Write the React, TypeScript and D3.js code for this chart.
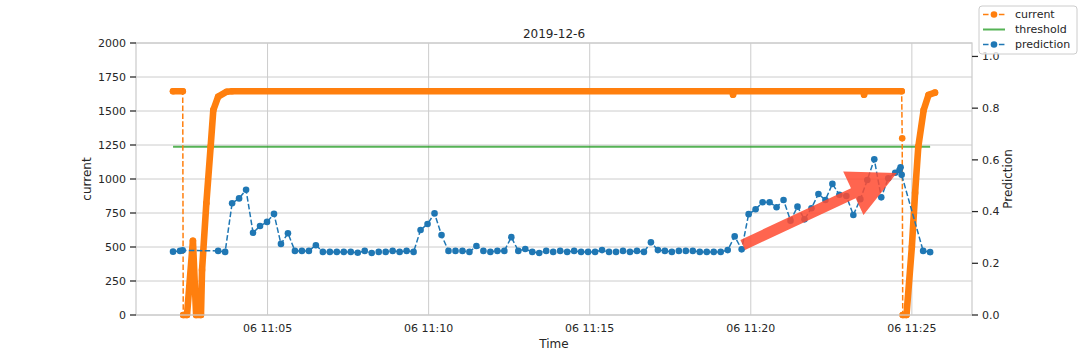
import * as d3 from "d3";

// ---- data ----
const DAY = "2019-12-06";

const currentTimes = [
  "11:02:04", "11:02:22", "11:02:23", "11:02:30", "11:02:41", "11:02:47",
  "11:02:56", "11:02:58", "11:03:06", "11:03:14", "11:03:19", "11:03:28",
  "11:03:44", "11:03:54", "11:19:26", "11:19:27", "11:19:28", "11:23:30",
  "11:23:31", "11:23:32", "11:24:41", "11:24:42", "11:24:43", "11:24:50",
  "11:25:00", "11:25:06", "11:25:12", "11:25:22", "11:25:31", "11:25:43",
];
const currentValues = [
  1645, 1645, 0, 0, 546, 0,
  0, 331, 821, 1238, 1507, 1605,
  1642, 1645, 1645, 1620, 1645, 1645,
  1620, 1645, 1645, 1300, 0, 0,
  502, 897, 1238, 1507, 1618, 1635,
];

const predTimes = [
  "11:02:04", "11:02:17", "11:02:22",
  "11:03:28", "11:03:41", "11:03:54", "11:04:07", "11:04:20", "11:04:33",
  "11:04:46", "11:04:59", "11:05:12", "11:05:25", "11:05:38", "11:05:51",
  "11:06:04", "11:06:17", "11:06:30", "11:06:43", "11:06:56", "11:07:09",
  "11:07:22", "11:07:35", "11:07:48", "11:08:01", "11:08:14", "11:08:27",
  "11:08:40", "11:08:53", "11:09:06", "11:09:19", "11:09:32", "11:09:45",
  "11:09:58", "11:10:11", "11:10:24", "11:10:37", "11:10:50", "11:11:03",
  "11:11:16", "11:11:29", "11:11:42", "11:11:55", "11:12:08", "11:12:21",
  "11:12:34", "11:12:47", "11:13:00", "11:13:13", "11:13:26", "11:13:39",
  "11:13:52", "11:14:05", "11:14:18", "11:14:31", "11:14:44", "11:14:57",
  "11:15:10", "11:15:23", "11:15:36", "11:15:49", "11:16:02", "11:16:15",
  "11:16:28", "11:16:41", "11:16:54", "11:17:07", "11:17:20", "11:17:33",
  "11:17:46", "11:17:59", "11:18:12", "11:18:25", "11:18:38", "11:18:51",
  "11:19:04", "11:19:17", "11:19:30", "11:19:43", "11:19:56", "11:20:09",
  "11:20:22", "11:20:35", "11:20:48", "11:21:01", "11:21:14", "11:21:27",
  "11:21:40", "11:21:53", "11:22:06", "11:22:19", "11:22:32", "11:22:45",
  "11:22:58", "11:23:11", "11:23:24", "11:23:37", "11:23:50", "11:24:03",
  "11:24:16", "11:24:29", "11:24:37", "11:24:39", "11:24:41",
  "11:25:21", "11:25:34",
];
const predValues = [
  0.245, 0.248, 0.25,
  0.248, 0.244, 0.432, 0.451, 0.484, 0.318,
  0.344, 0.36, 0.391, 0.275, 0.316, 0.248,
  0.248, 0.248, 0.27, 0.244, 0.244, 0.244,
  0.244, 0.244, 0.241, 0.248, 0.24, 0.244,
  0.244, 0.248, 0.244, 0.248, 0.244, 0.329,
  0.352, 0.393, 0.309, 0.248, 0.248, 0.248,
  0.244, 0.267, 0.248, 0.244, 0.248, 0.248,
  0.301, 0.248, 0.255, 0.244, 0.24, 0.248,
  0.244, 0.248, 0.244, 0.248, 0.244, 0.244,
  0.244, 0.251, 0.244, 0.244, 0.248, 0.244,
  0.248, 0.244, 0.281, 0.251, 0.248, 0.244,
  0.248, 0.248, 0.248, 0.244, 0.244, 0.244,
  0.244, 0.251, 0.304, 0.254, 0.39, 0.409,
  0.436, 0.436, 0.417, 0.445, 0.365, 0.419,
  0.37, 0.413, 0.468, 0.445, 0.507, 0.465,
  0.46, 0.387, 0.448, 0.522, 0.602, 0.455,
  0.529, 0.55, 0.561, 0.571, 0.542,
  0.248, 0.243,
];

const thresholdValue = 1237.5;
const leftTicks = [0, 250, 500, 750, 1000, 1250, 1500, 1750, 2000];
const rightTicks = [0, 0.2, 0.4, 0.6, 0.8, 1.0];
const xTickTimes = ["11:05:00", "11:10:00", "11:15:00", "11:20:00", "11:25:00"];
const xDomain = ["11:00:55", "11:26:52"];
const arrowFrom: [string, number] = ["11:19:45", 0.271];
const arrowTo: [string, number] = ["11:24:32", 0.549];

// ---- layout ----
const W = 1080;
const H = 360;
const left = 136;
const right = 972;
const top = 43;
const bottom = 315;

const ORANGE = "#ff7f0e";
const BLUE = "#1f77b4";
const GREEN = "#2ca02c";
const GRID = "#cccccc";
const TEXT = "#262626";
const FONT = "DejaVu Sans, sans-serif";

const parse = d3.timeParse("%Y-%m-%d %H:%M:%S");
const toDate = (t: string) => parse(`${DAY} ${t}`) as Date;

export default function App() {
  const x = d3.scaleTime().domain(xDomain.map(toDate)).range([left, right]);
  const yL = d3.scaleLinear().domain([0, 2000]).range([bottom, top]);
  const yR = d3.scaleLinear().domain([0, 1.052]).range([bottom, top]);
  const fmt = d3.timeFormat("%d %H:%M");

  const cur = currentTimes.map((t, i) => ({ t: toDate(t), v: currentValues[i] }));
  const pred = predTimes.map((t, i) => ({ t: toDate(t), v: predValues[i] }));

  // dense runs of samples show as a thick trail of overlapping markers
  const runs: { t: Date; v: number }[][] = [[cur[0]]];
  for (let i = 1; i < cur.length; i++) {
    const dt = (+cur[i].t - +cur[i - 1].t) / 1000;
    const jump = dt <= 1 && Math.abs(cur[i].v - cur[i - 1].v) > 200;
    if (jump) runs.push([cur[i]]);
    else runs[runs.length - 1].push(cur[i]);
  }

  const curLine = d3
    .line<{ t: Date; v: number }>()
    .x((d) => x(d.t))
    .y((d) => yL(d.v));
  const predLine = d3
    .line<{ t: Date; v: number }>()
    .x((d) => x(d.t))
    .y((d) => yR(d.v));

  const predExtent = d3.extent(pred, (d) => d.t) as [Date, Date];

  // arrow annotation
  const ax0 = x(toDate(arrowFrom[0]));
  const ay0 = yR(arrowFrom[1]);
  const ax1 = x(toDate(arrowTo[0]));
  const ay1 = yR(arrowTo[1]);
  const len = Math.hypot(ax1 - ax0, ay1 - ay0);
  const ux = (ax1 - ax0) / len;
  const uy = (ay1 - ay0) / len;
  const px = -uy;
  const py = ux;
  const shaftW = 11;
  const headW = 48;
  const headL = 48;
  const bx = ax1 - ux * headL;
  const by = ay1 - uy * headL;
  const arrowPts = [
    [ax0 + (px * shaftW) / 2, ay0 + (py * shaftW) / 2],
    [bx + (px * shaftW) / 2, by + (py * shaftW) / 2],
    [bx + (px * headW) / 2, by + (py * headW) / 2],
    [ax1, ay1],
    [bx - (px * headW) / 2, by - (py * headW) / 2],
    [bx - (px * shaftW) / 2, by - (py * shaftW) / 2],
    [ax0 - (px * shaftW) / 2, ay0 - (py * shaftW) / 2],
  ];

  const legendItems = [
    { label: "current", color: ORANGE, dashed: true, marker: true },
    { label: "threshold", color: GREEN, dashed: false, marker: false },
    { label: "prediction", color: BLUE, dashed: true, marker: true },
  ];

  return (
    <svg
      width={W}
      height={H}
      style={{ position: "absolute", left: 0, top: 0, background: "#fff" }}
      fontFamily={FONT}
    >
      {/* grid */}
      {leftTicks.map((v) => (
        <line key={"gy" + v} x1={left} x2={right} y1={yL(v)} y2={yL(v)} stroke={GRID} strokeWidth={1} />
      ))}
      {xTickTimes.map((t) => (
        <line key={"gx" + t} x1={x(toDate(t))} x2={x(toDate(t))} y1={top} y2={bottom} stroke={GRID} strokeWidth={1} />
      ))}

      {/* threshold */}
      <line
        x1={x(predExtent[0])}
        x2={x(predExtent[1])}
        y1={yL(thresholdValue)}
        y2={yL(thresholdValue)}
        stroke={GREEN}
        strokeOpacity={0.8}
        strokeWidth={2}
      />

      {/* current */}
      <path d={curLine(cur) ?? ""} fill="none" stroke={ORANGE} strokeWidth={1.5} strokeDasharray="5.55,2.4" />
      {runs
        .filter((r) => r.length > 1)
        .map((r, i) => (
          <path
            key={"run" + i}
            d={curLine(r) ?? ""}
            fill="none"
            stroke={ORANGE}
            strokeWidth={6.6}
            strokeLinejoin="round"
            strokeLinecap="round"
          />
        ))}
      {cur.map((d, i) => (
        <circle key={"c" + i} cx={x(d.t)} cy={yL(d.v)} r={3.3} fill={ORANGE} />
      ))}

      {/* prediction */}
      <path d={predLine(pred) ?? ""} fill="none" stroke={BLUE} strokeWidth={1.5} strokeDasharray="5.55,2.4" />
      {pred.map((d, i) => (
        <circle key={"p" + i} cx={x(d.t)} cy={yR(d.v)} r={3.3} fill={BLUE} />
      ))}

      {/* arrow annotation */}
      <polygon points={arrowPts.map((p) => p.join(",")).join(" ")} fill="#ff4a30" fillOpacity={0.85} />

      {/* spines */}
      <rect x={left} y={top} width={right - left} height={bottom - top} fill="none" stroke={GRID} strokeWidth={1.25} />

      {/* left axis */}
      {leftTicks.map((v) => (
        <g key={"lt" + v}>
          <line x1={left - 6} x2={left} y1={yL(v)} y2={yL(v)} stroke={TEXT} strokeWidth={1.25} />
          <text x={left - 10} y={yL(v)} dy="0.35em" textAnchor="end" fontSize={11} fill={TEXT}>
            {v}
          </text>
        </g>
      ))}
      <text
        transform={`translate(87,${(top + bottom) / 2}) rotate(-90)`}
        textAnchor="middle"
        dy="0.35em"
        fontSize={12}
        fill={TEXT}
      >
        current
      </text>

      {/* right axis */}
      {rightTicks.map((v) => (
        <g key={"rt" + v}>
          <line x1={right} x2={right + 6} y1={yR(v)} y2={yR(v)} stroke={TEXT} strokeWidth={1.25} />
          <text x={right + 10} y={yR(v)} dy="0.35em" textAnchor="start" fontSize={11} fill={TEXT}>
            {v.toFixed(1)}
          </text>
        </g>
      ))}
      <text
        transform={`translate(1008,${(top + bottom) / 2}) rotate(-90)`}
        textAnchor="middle"
        dy="0.35em"
        fontSize={12}
        fill={TEXT}
      >
        Prediction
      </text>

      {/* bottom axis */}
      {xTickTimes.map((t) => (
        <text key={"xt" + t} x={x(toDate(t))} y={332} textAnchor="middle" fontSize={11} fill={TEXT}>
          {fmt(toDate(t))}
        </text>
      ))}
      <text x={(left + right) / 2} y={348} textAnchor="middle" fontSize={12} fill={TEXT}>
        Time
      </text>

      {/* title */}
      <text x={(left + right) / 2} y={37.5} textAnchor="middle" fontSize={12} fill={TEXT}>
        2019-12-6
      </text>

      {/* legend */}
      <rect x={979} y={6} width={98} height={48} rx={3} fill="#fff" fillOpacity={0.8} stroke={GRID} strokeWidth={1} />
      {legendItems.map((it, i) => {
        const ly = 14.5 + i * 15;
        return (
          <g key={it.label}>
            <line
              x1={983}
              x2={1005}
              y1={ly}
              y2={ly}
              stroke={it.color}
              strokeOpacity={it.marker ? 1 : 0.8}
              strokeWidth={it.marker ? 1.5 : 2}
              strokeDasharray={it.dashed ? "5.55,2.4" : undefined}
            />
            {it.marker && <circle cx={994} cy={ly} r={3.3} fill={it.color} />}
            <text x={1015} y={ly} dy="0.35em" fontSize={11} fill={TEXT}>
              {it.label}
            </text>
          </g>
        );
      })}
    </svg>
  );
}
